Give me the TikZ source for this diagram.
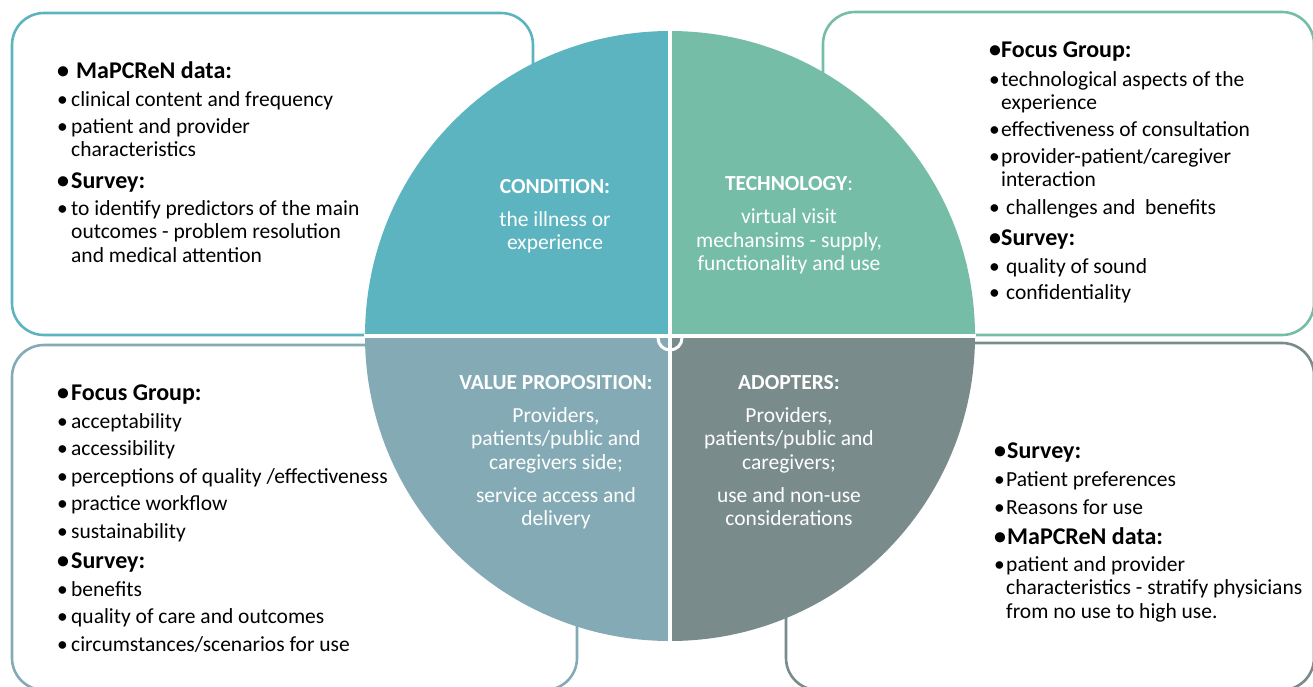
\documentclass[tikz,border=0pt]{standalone}
\usepackage{fontspec}
\setmainfont{Carlito}
\usetikzlibrary{positioning}
\definecolor{condcol}{HTML}{5BB4C0}
\definecolor{techcol}{HTML}{76BDA7}
\definecolor{valuecol}{HTML}{84ABB5}
\definecolor{adoptcol}{HTML}{7A8B8C}
\newcommand{\itemfont}{\fontsize{21.5}{23.5}\selectfont}
\newcommand{\headfont}{\fontsize{24}{26}\selectfont\bfseries}
\newcommand{\bul}[1][14pt]{\makebox[#1][l]{\textbullet}}
\tikzstyle{box} = [rounded corners=32pt, line width=2.6pt]
\tikzstyle{gap} = [white, line width=4pt]
\tikzstyle{item} = [anchor=base west, inner sep=0pt, align=left, font=\itemfont]
\tikzstyle{head} = [anchor=base west, inner sep=0pt, font=\headfont]
\tikzstyle{quadtitle} = [anchor=base, inner sep=0pt, text=white, font=\itemfont\bfseries]
\tikzstyle{quadtext} = [inner sep=0pt, text=white, align=center, font=\itemfont]
\begin{document}
\begin{tikzpicture}[x=1pt, y=-1pt]
	\useasboundingbox (0,0) rectangle (1313,686);
	\coordinate (hub) at (670,336);

	% boxes behind the circle
	\draw [box, draw=condcol] (12,13) rectangle (533,335);
	\draw [box, draw=techcol] (823,12) rectangle (1314,335);
	\draw [box, draw=valuecol] (12,345) rectangle (577,690);
	\draw [box, draw=adoptcol] (786,343) rectangle (1314,690);

	% circle quadrants
	\fill [condcol] (hub) -- ++(180:305) arc[start angle=180, end angle=270, radius=305] -- cycle;
	\fill [techcol] (hub) -- ++(270:305) arc[start angle=270, end angle=360, radius=305] -- cycle;
	\fill [adoptcol] (hub) -- ++(0:305) arc[start angle=0, end angle=90, radius=305] -- cycle;
	\fill [valuecol] (hub) -- ++(90:305) arc[start angle=90, end angle=180, radius=305] -- cycle;
	\draw [gap] (670,30) -- (670,642);
	\draw [gap] (364,336) -- (976,336);
	\draw [white, line width=3pt] (658,338) arc[start angle=180, end angle=0, radius=12];

	% circle texts
	\node (titleCond) [quadtitle] at (555,193) {CONDITION:};
	\node (textCond) [quadtext, below=18pt of titleCond] {the illness or\\experience};
	\node (titleTech) [quadtitle] at (789,190) {TECHNOLOGY\mdseries:};
	\node (textTech) [quadtext, below=18pt of titleTech] {virtual visit\\mechansims - supply,\\functionality and use};
	\node (titleValue) [quadtitle] at (556,389) {VALUE PROPOSITION:};
	\node (textValue) [quadtext, below=18pt of titleValue] {Providers,\\patients/public and\\caregivers side;\\[9.5pt]service access and\\delivery};
	\node (titleAdopt) [quadtitle] at (789,389) {ADOPTERS:};
	\node (textAdopt) [quadtext, below=18pt of titleAdopt] {Providers,\\patients/public and\\caregivers;\\[9.5pt]use and non-use\\considerations};

	% condition box (multi-line items sit on their last baseline)
	\node (condHeadData) [head] at (57,78) {\bul[19pt]MaPCReN data:};
	\node (condClinical) [item] at (57,106) {\bul clinical content and frequency};
	\node (condPatient) [item] at (57,156.5) {\bul patient and provider\\\hspace*{14pt}characteristics};
	\node (condHeadSurvey) [head] at (57,188) {\bul Survey:};
	\node (condPredictors) [item] at (57,262) {\bul to identify predictors of the main\\\hspace*{14pt}outcomes - problem resolution\\\hspace*{14pt}and medical attention};

	% technology box
	\node (techHeadFocus) [head] at (989,57) {\bul[12pt]Focus Group:};
	\node (techAspects) [item] at (989,109.5) {\bul[12pt]technological aspects of the\\\hspace*{12pt}experience};
	\node (techEffect) [item] at (989,136) {\bul[12pt]effectiveness of consultation};
	\node (techInteract) [item] at (989,186.5) {\bul[12pt]provider-patient/caregiver\\\hspace*{12pt}interaction};
	\node (techChallenge) [item] at (989,214) {\bul[17pt]challenges and\ \ benefits};
	\node (techHeadSurvey) [head] at (989,245) {\bul[12pt]Survey:};
	\node (techSound) [item] at (989,273) {\bul[17pt]quality of sound};
	\node (techConfid) [item] at (989,299) {\bul[17pt]confidentiality};

	% value proposition box
	\node (valueHeadFocus) [head] at (57,400) {\bul Focus Group:};
	\node (valueAccept) [item] at (57,428) {\bul acceptability};
	\node (valueAccess) [item] at (57,455) {\bul accessibility};
	\node (valuePercept) [item] at (57,483) {\bul perceptions of quality /effectiveness};
	\node (valueWorkflow) [item] at (57,510) {\bul practice workflow};
	\node (valueSustain) [item] at (57,538) {\bul sustainability};
	\node (valueHeadSurvey) [head] at (57,568) {\bul Survey:};
	\node (valueBenefits) [item] at (57,596) {\bul benefits};
	\node (valueQuality) [item] at (57,623) {\bul quality of care and outcomes};
	\node (valueScenario) [item] at (57,651) {\bul circumstances/scenarios for use};

	% adopters box
	\node (adoptHeadSurvey) [head] at (994,458) {\bul[13pt]Survey:};
	\node (adoptPrefer) [item] at (994,486) {\bul[12pt]Patient preferences};
	\node (adoptReasons) [item] at (994,514) {\bul[12pt]Reasons for use};
	\node (adoptHeadData) [head] at (994,544) {\bul[13pt]MaPCReN data:};
	\node (adoptPatient) [item] at (994,618) {\bul[12pt]patient and provider\\\hspace*{12pt}characteristics - stratify physicians\\\hspace*{12pt}from no use to high use.};
\end{tikzpicture}
\end{document}
